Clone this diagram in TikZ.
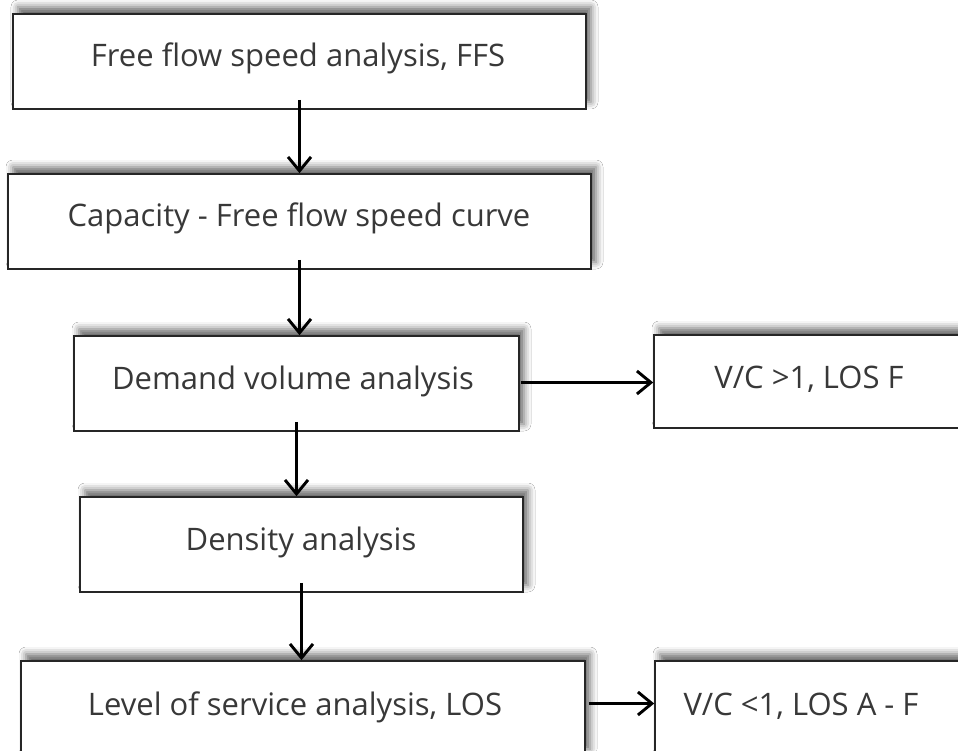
\documentclass[tikz,border=0pt]{standalone}
\usepackage{fontspec}
\setmainfont{Open Sans}
\usetikzlibrary{arrows.meta,shadows.blur}
\begin{document}
\begin{tikzpicture}[x=1pt,y=-1pt,
  box/.style={draw=black!85, line width=1.6pt, fill=white, inner sep=0pt,
    blur shadow={shadow xshift=5pt, shadow yshift=7pt, shadow blur radius=7pt, shadow opacity=60}},
  lbl/.style={font=\fontsize{31}{35}\selectfont, text=black!78, anchor=base, inner sep=0pt},
  flow/.style={line width=2.9pt, -{Straight Barb[length=14pt,width=23pt]}}]
\useasboundingbox (0,0) rectangle (958,751);
\fill[white] (0,0) rectangle (958,751);
\clip (0,0) rectangle (958,751);

% process boxes
\node[box, minimum width=573pt, minimum height=95pt] (ffs) at (299.5,61.5) {};
\node[box, minimum width=583pt, minimum height=95pt] (cap) at (299.5,221.5) {};
\node[box, minimum width=445pt, minimum height=95pt] (dem) at (296.5,383.5) {};
\node[box, minimum width=310pt, minimum height=93pt] (vcf) at (809,381.5) {};
\node[box, minimum width=443pt, minimum height=95pt] (den) at (301.5,544.5) {};
\node[box, minimum width=564pt, minimum height=95pt] (los) at (303,708.5) {};
\node[box, minimum width=315pt, minimum height=95pt] (vca) at (812.5,708.5) {};

% box texts
\node[lbl] (ffs-t) at (298,67) {Free flow speed analysis, FFS};
\node[lbl] (cap-t) at (299,227) {Capacity - Free flow speed curve};
\node[lbl] (dem-t) at (293,389) {Demand volume analysis};
\node[lbl] (vcf-t) at (809,388) {V/C >1, LOS F};
\node[lbl] (den-t) at (301,550) {Density analysis};
\node[lbl] (los-t) at (295,715) {Level of service analysis, LOS};
\node[lbl] (vca-t) at (801,715) {V/C <1, LOS A - F};

% connectors
\draw[flow] ([yshift=10pt]ffs.south) -- (ffs.south |- cap.north);
\draw[flow] ([yshift=10pt]cap.south) -- (cap.south |- dem.north);
\draw[flow] ([yshift=10pt]dem.south) -- (dem.south |- den.north);
\draw[flow] ([yshift=10pt]den.south) -- (den.south |- los.north);
\draw[flow] ([xshift=1pt,yshift=1pt]dem.east) -- ([yshift=1pt]dem.east -| vcf.west);
\draw[flow] ([xshift=3pt,yshift=5pt]los.east) -- ([yshift=5pt]los.east -| vca.west);
\end{tikzpicture}
\end{document}
